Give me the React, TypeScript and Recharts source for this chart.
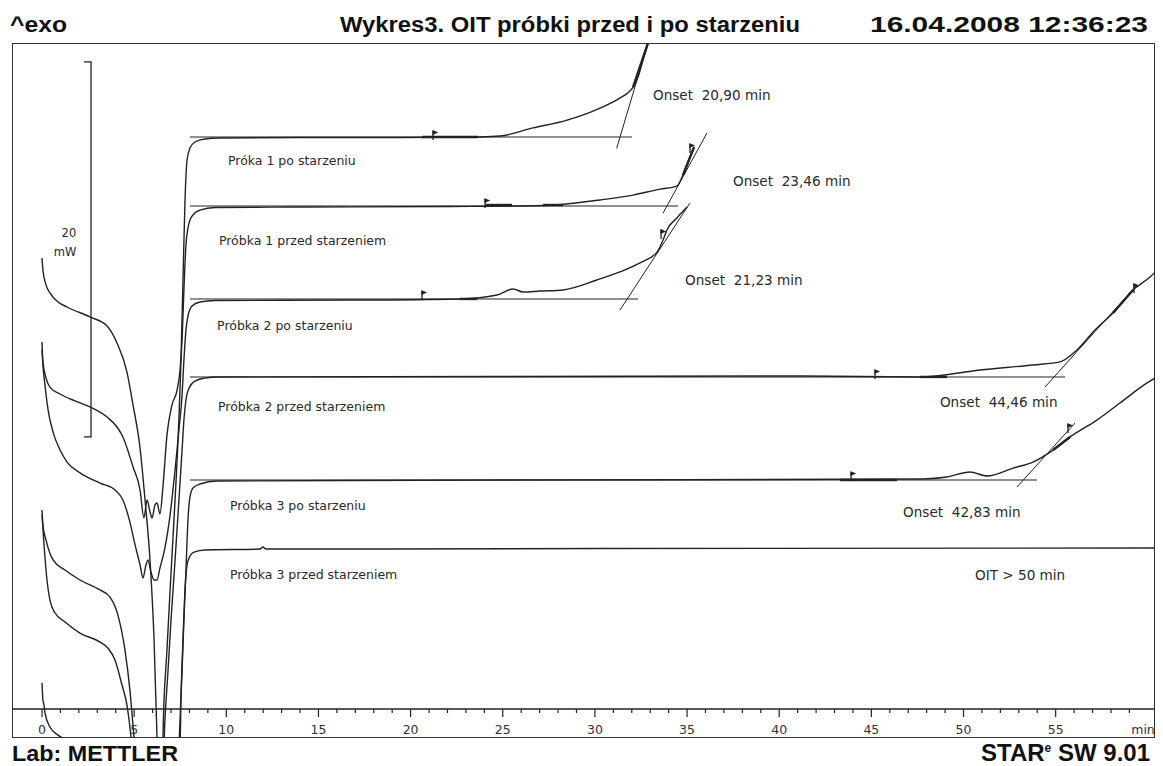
import React from "react";
import {
  ComposedChart,
  Line,
  XAxis,
  YAxis,
  ReferenceLine,
  ReferenceDot,
} from "recharts";

type P = [number, number];

// time [min], heat flow [mW] (offset so that the time axis sits at 0 mW)
const probka1Po: P[] = [
  [0, 24.05], [0.05, 23.41], [0.22, 22.61], [0.43, 22.19], [0.87, 21.71], [1.36, 21.44],
  [2.6, 20.91], [3.53, 20.43], [4.07, 19.52], [4.61, 17.97], [4.94, 16.21], [5.32, 13.92],
  [5.59, 11.15], [5.86, 7.95], [6.08, 3.68], [6.24, -1.49], [6.29, -2.72], [6.51, -2.72],
  [6.62, 0.48], [6.78, 3.15], [6.95, 6.35], [7.16, 10.08], [7.38, 14.35], [7.54, 18.61],
  [7.65, 22.88], [7.76, 27.15], [7.87, 29.28], [8.03, 29.92], [8.3, 30.24], [8.84, 30.4],
  [9.66, 30.45], [14, 30.48], [19.42, 30.48], [23.77, 30.51], [24.85, 30.56], [26.64, 30.99],
  [28.49, 31.41], [30.28, 32.05], [31.36, 32.59], [32.07, 33.17], [32.34, 33.71],
  [32.61, 34.61], [32.88, 35.52], [32.99, 35.95],
];

const probka1Przed: P[] = [
  [0, 19.57], [0.05, 18.51], [0.22, 17.65], [0.43, 17.17], [0.98, 16.8], [1.79, 16.43],
  [2.6, 16.11], [3.53, 15.57], [4.07, 15.04], [4.39, 14.51], [4.94, 12.91], [5.32, 11.68],
  [5.53, 10.19], [5.7, 11.15], [5.86, 10.51], [5.97, 10.19], [6.13, 10.88], [6.24, 10.99],
  [6.4, 10.4], [6.57, 11.95], [6.78, 14.61], [7.05, 16.21], [7.33, 17.01], [7.49, 18.08],
  [7.6, 19.68], [7.7, 22.35], [7.81, 24.75], [7.92, 25.65], [8.14, 26.29], [8.57, 26.61],
  [9.39, 26.75], [14, 26.77], [22.14, 26.8], [27.18, 26.85], [30.28, 27.15], [32.07, 27.41],
  [33.53, 27.73], [34.45, 27.89], [34.78, 28.48], [35.11, 29.28], [35.38, 29.97],
];

const probka2Po: P[] = [
  [0, 19.15], [0.05, 18.35], [0.16, 17.28], [0.33, 15.95], [0.6, 14.77], [0.98, 13.81],
  [1.36, 13.17], [2.06, 12.59], [3.15, 12.05], [3.96, 11.68], [4.39, 11.15], [4.77, 9.97],
  [5.05, 8.75], [5.32, 7.68], [5.48, 6.99], [5.64, 7.68], [5.75, 7.95], [5.91, 7.31],
  [6.08, 6.88], [6.24, 6.88], [6.4, 7.52], [6.67, 8.59], [6.95, 10.35], [7.22, 12.75],
  [7.43, 14.88], [7.6, 16.75], [7.7, 18.61], [7.81, 20.21], [7.92, 20.96], [8.14, 21.49],
  [8.57, 21.71], [9.39, 21.79], [16.71, 21.81], [22.68, 21.87], [24.69, 22.08], [25.56, 22.4],
  [26.1, 22.24], [27.02, 22.29], [28.27, 22.35], [30.11, 22.88], [31.36, 23.31],
  [32.45, 23.79], [33.37, 24.37], [33.7, 25.01], [33.91, 25.55], [34.45, 26.19], [35, 26.77],
];

const probka2Przed: P[] = [
  [0, 10.61], [0.05, 9.81], [0.22, 9.01], [0.6, 7.95], [1.25, 7.41], [2.06, 6.88],
  [3.15, 6.35], [3.69, 5.97], [4.12, 5.01], [4.5, 3.15], [4.77, 1.01], [4.99, -1.49],
  [5.1, -2.72], [6.57, -2.72], [6.67, -0.59], [6.84, 2.08], [7, 4.75], [7.22, 7.95],
  [7.43, 11.15], [7.6, 13.81], [7.7, 15.41], [7.81, 16.48], [7.98, 17.12], [8.3, 17.49],
  [8.84, 17.65], [9.5, 17.71], [24.85, 17.73], [41.13, 17.76], [47.64, 17.71], [50.9, 18.08],
  [53.77, 18.35], [55.24, 18.51], [56.16, 19.15], [57.13, 20.21], [58.11, 21.12],
  [59.2, 22.35], [60.12, 23.04], [60.5, 23.41],
];

const probka3Po: P[] = [
  [0, 10.35], [0.11, 8.75], [0.27, 6.88], [0.43, 5.81], [0.71, 5.12], [1.25, 4.64],
  [2.06, 4.05], [3.15, 3.57], [3.58, 3.25], [3.96, 2.61], [4.34, 1.28], [4.61, 0.21],
  [4.83, -1.49], [4.94, -2.72], [7.38, -2.72], [7.49, -0.59], [7.6, 2.08], [7.7, 4.75],
  [7.81, 7.41], [7.92, 10.08], [8.03, 11.31], [8.19, 11.79], [8.57, 12], [9.5, 12.16],
  [24.85, 12.21], [47.8, 12.27], [49.1, 12.37], [50.35, 12.64], [51.28, 12.43],
  [52.69, 12.85], [53.77, 13.17], [54.86, 13.81], [55.78, 14.51], [57.24, 15.41],
  [58.49, 16.32], [59.96, 17.39], [60.5, 17.71],
];

const probka3Przed: P[] = [
  [0, 1.39], [0.05, 0.48], [0.11, 0.21], [0.16, -0.21], [0.43, -0.96], [0.87, -1.39],
  [1.52, -1.65], [7.49, -1.92], [7.54, 0.48], [7.65, 3.68], [7.76, 6.35], [7.87, 7.68],
  [8.03, 8.16], [8.25, 8.37], [8.84, 8.48], [11.83, 8.53], [11.99, 8.64], [12.15, 8.53],
  [30.28, 8.56], [60.39, 8.59],
];

const curves = [probka1Po, probka1Przed, probka2Po, probka2Przed, probka3Po, probka3Przed];

// onset construction: extrapolated baselines and inflection tangents
const baselines: P[][] = [
  [[8.03, 30.51], [32.01, 30.51]],
  [[8.03, 26.83], [34.51, 26.83]],
  [[8.03, 21.87], [32.34, 21.87]],
  [[8.03, 17.71], [55.51, 17.71]],
  [[8.03, 12.21], [53.99, 12.21]],
];

const tangents: P[][] = [
  [[31.18, 29.9], [32.88, 35.52]],
  [[33.7, 26.45], [36.08, 30.72]],
  [[31.36, 21.28], [35.16, 26.99]],
  [[54.42, 17.17], [59.41, 22.61]],
  [[52.9, 11.84], [56.05, 15.25]],
];

// evaluation ranges (drawn thicker)
const evalRanges: P[][] = [
  [[20.62, 30.51], [23.66, 30.51]],
  [[32.07, 33.17], [32.88, 35.52]],
  [[24.04, 26.88], [25.5, 26.88]],
  [[27.18, 26.88], [28.27, 26.88]],
  [[34.78, 28.48], [35.38, 29.97]],
  [[22.68, 21.87], [23.6, 21.87]],
  [[47.64, 17.71], [49.1, 17.71]],
  [[58.11, 21.12], [59.2, 22.35]],
  [[43.3, 12.21], [46.39, 12.21]],
  [[54.86, 13.81], [55.78, 14.51]],
];

const flags: P[] = [
  [21.22, 30.51], [24.04, 26.88], [35.16, 29.81], [20.62, 21.97], [33.59, 25.23],
  [45.2, 17.76], [59.25, 22.35], [43.9, 12.32], [55.67, 14.88],
];

// 20 mW scale bar
const scaleBar: P[] = [[2.28, 34.51], [2.66, 34.51], [2.66, 14.51], [2.28, 14.51]];

const xTicks = [
  0, 1, 2, 3, 4, 5, 6, 7, 8, 9, 10, 11, 12, 13, 14, 15, 16, 17, 18, 19, 20, 21, 22, 23, 24,
  25, 26, 27, 28, 29, 30, 31, 32, 33, 34, 35, 36, 37, 38, 39, 40, 41, 42, 43, 44, 45, 46, 47,
  48, 49, 50, 51, 52, 53, 54, 55, 56, 57, 58, 59, 60,
];

const sampleNames = [
  "Próka 1 po starzeniu",
  "Próbka 1 przed starzeniem",
  "Próbka 2 po starzeniu",
  "Próbka 2 przed starzeniem",
  "Próbka 3 po starzeniu",
  "Próbka 3 przed starzeniem",
];
const sampleNamePos: P[] = [
  [10.09, 29.23], [9.6, 25.01], [9.5, 20.43], [9.55, 16.16], [10.2, 10.88], [10.2, 7.2],
];

const onsetTexts = [
  "Onset  20,90 min",
  "Onset  23,46 min",
  "Onset  21,23 min",
  "Onset  44,46 min",
  "Onset  42,83 min",
  "OIT > 50 min",
];
const onsetPos: P[] = [
  [33.15, 32.75], [37.49, 28.16], [34.89, 22.88], [48.72, 16.37], [46.72, 10.51], [50.62, 7.15],
];

const toRows = (pts: P[]) => pts.map(([t, mW]) => ({ t, mW }));

const INK = "#222";
const NOTE_FONT = "'DejaVu Sans', Verdana, sans-serif";
const HEAD_FONT = "'Liberation Sans', Arial, sans-serif";

function AxisTick(props: any) {
  const { x, y, payload } = props;
  const v = payload.value as number;
  const top = y - 28;
  const major = v % 5 === 0;
  return (
    <g>
      {v < 60 && (
        <line x1={x} x2={x} y1={top} y2={top + (major ? 8 : 4)} stroke={INK} strokeWidth={1.2} />
      )}
      {major && (
        <text
          x={v === 60 ? x + 7 : x}
          y={top + 20}
          textAnchor={v === 60 ? "end" : "middle"}
          dominantBaseline="central"
          fontFamily={NOTE_FONT}
          fontSize={12.5}
          fill="#333"
        >
          {v === 60 ? "min" : v}
        </text>
      )}
    </g>
  );
}

function noteShape(text: string, size: number, anchor = "start") {
  return (p: any) => (
    <text
      x={p.cx}
      y={p.cy}
      textAnchor={anchor}
      dominantBaseline="central"
      fontFamily={NOTE_FONT}
      fontSize={size}
      fill="#2a2a2a"
      xmlSpace="preserve"
      style={{ whiteSpace: "pre" }}
    >
      {text}
    </text>
  );
}

function flagShape(p: any) {
  const { cx, cy } = p;
  return (
    <g stroke={INK} strokeWidth={1.3} fill={INK}>
      <line x1={cx} x2={cx} y1={cy + 3} y2={cy - 6} />
      <path d={`M${cx},${cy - 6} L${cx + 3.5},${cy - 4.5} L${cx},${cy - 3} Z`} />
    </g>
  );
}

export default function App() {
  return (
    <div style={{ position: "absolute", left: 0, top: 0, width: 1163, height: 766, background: "#fff" }}>
      <div
        style={{
          position: "absolute",
          left: 12,
          top: 43,
          width: 1143,
          height: 695,
          border: "1.5px solid #333",
          boxSizing: "border-box",
        }}
      />
      <ComposedChart width={1163} height={766} margin={{ top: 43, right: 8, bottom: 0, left: 12 }}>
        <XAxis
          type="number"
          dataKey="t"
          domain={[-1.628, 60.39]}
          allowDataOverflow
          ticks={xTicks}
          interval={0}
          tick={(p: any) => <AxisTick {...p} />}
          tickLine={false}
          axisLine={false}
          tickSize={0}
          tickMargin={0}
          height={29}
        />
        <YAxis type="number" dataKey="mW" domain={[-1.493, 35.52]} allowDataOverflow hide width={0} />

        <ReferenceLine y={0} stroke={INK} strokeWidth={1.3} />

        {baselines.map((b, i) => (
          <Line key={"b" + i} data={toRows(b)} dataKey="mW" type="linear" dot={false}
            stroke={INK} strokeWidth={1.1} isAnimationActive={false} />
        ))}
        {tangents.map((b, i) => (
          <Line key={"tg" + i} data={toRows(b)} dataKey="mW" type="linear" dot={false}
            stroke={INK} strokeWidth={1} isAnimationActive={false} />
        ))}
        {evalRanges.map((b, i) => (
          <Line key={"e" + i} data={toRows(b)} dataKey="mW" type="linear" dot={false}
            stroke={INK} strokeWidth={2.4} isAnimationActive={false} />
        ))}
        {curves.map((c, i) => (
          <Line key={"c" + i} data={toRows(c)} dataKey="mW" type="monotone" dot={false}
            stroke={INK} strokeWidth={1.4} isAnimationActive={false} />
        ))}
        <Line data={toRows(scaleBar)} dataKey="mW" type="linear" dot={false}
          stroke={INK} strokeWidth={1.3} isAnimationActive={false} />

        {flags.map(([t, mW], i) => (
          <ReferenceDot key={"f" + i} x={t} y={mW} r={0} shape={flagShape} />
        ))}
        {sampleNames.map((s, i) => (
          <ReferenceDot key={"n" + i} x={sampleNamePos[i][0]} y={sampleNamePos[i][1]} r={0}
            shape={noteShape(s, 12.5)} />
        ))}
        {onsetTexts.map((s, i) => (
          <ReferenceDot key={"o" + i} x={onsetPos[i][0]} y={onsetPos[i][1]} r={0}
            shape={noteShape(s, 13.6)} />
        ))}
        <ReferenceDot x={1.46} y={25.39} r={0} shape={noteShape("20", 11.5, "middle")} />
        <ReferenceDot x={1.25} y={24.37} r={0} shape={noteShape("mW", 11.5, "middle")} />
      </ComposedChart>

      <svg width={1163} height={766} style={{ position: "absolute", left: 0, top: 0, pointerEvents: "none" }}>
        <g fontFamily={HEAD_FONT} fontWeight="bold" fontSize={22} fill="#111">
          <text x={10} y={32} textLength={57} lengthAdjust="spacingAndGlyphs">^exo</text>
          <text x={340} y={32} textLength={460} lengthAdjust="spacingAndGlyphs">
            Wykres3. OIT próbki przed i po starzeniu
          </text>
          <text x={870} y={32} textLength={278} lengthAdjust="spacingAndGlyphs">
            16.04.2008 12:36:23
          </text>
          <text x={12} y={761} textLength={166} lengthAdjust="spacingAndGlyphs">Lab: METTLER</text>
          <text x={1150} y={761} textAnchor="end" fontSize={24}>
            STAR<tspan fontSize={12} dy={-9}>e</tspan>
            <tspan dy={9}> SW 9.01</tspan>
          </text>
        </g>
      </svg>
    </div>
  );
}
